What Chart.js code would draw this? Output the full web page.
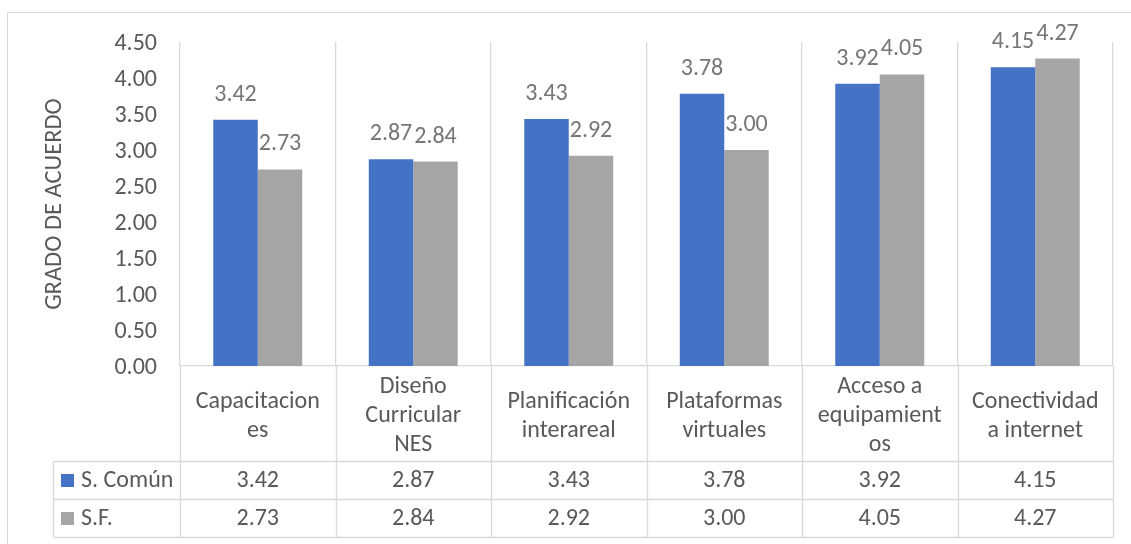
<!DOCTYPE html>
<html>
<head>
<meta charset="utf-8">
<script src="https://cdn.jsdelivr.net/npm/chart.js@4"></script>
<style>
  html, body { margin: 0; padding: 0; background: #fff; }
  #wrap { width: 1131px; height: 544px; }
</style>
</head>
<body>
<div id="wrap"><canvas id="bar-chart" width="1131" height="544"></canvas></div>
<script>
// categories (pre-wrapped the way the table cells show them)
const categories = [
    ['Capacitacion', 'es'],
    ['Diseño', 'Curricular', 'NES'],
    ['Planificación', 'interareal'],
    ['Plataformas', 'virtuales'],
    ['Acceso a', 'equipamient', 'os'],
    ['Conectividad', 'a internet']
];
const seriesNames = ['S. Común', 'S.F.'];
const comun = [3.42, 2.87, 3.43, 3.78, 3.92, 4.15];
const sf = [2.73, 2.84, 2.92, 3.00, 4.05, 4.27];
const seriesColors = ['#4472C4', '#A5A5A5'];

const FONT = 'Carlito, Lato, sans-serif';
const FS = 24;
const GRID = '#d9d9d9';
const TEXT = '#595959';

// value labels above each bar
const barLabels = {
    id: 'barLabels',
    afterDatasetsDraw(chart) {
        const ctx = chart.ctx;
        ctx.save();
        ctx.font = FS + 'px ' + FONT;
        ctx.fillStyle = '#767676';
        ctx.textAlign = 'center';
        ctx.textBaseline = 'middle';
        chart.data.datasets.forEach((ds, di) => {
            chart.getDatasetMeta(di).data.forEach((bar, i) => {
                ctx.fillText(ds.data[i].toFixed(2), bar.x, bar.y - 25);
            });
        });
        ctx.restore();
    }
};

// outer frame plus the data table under the axis
const dataTable = {
    id: 'dataTable',
    beforeDraw(chart) {
        const ctx = chart.ctx;
        ctx.save();
        ctx.strokeStyle = GRID;
        ctx.lineWidth = 1;
        ctx.beginPath();
        ctx.moveTo(7.5, 544);
        ctx.lineTo(7.5, 12.5);
        ctx.lineTo(1131, 12.5);
        ctx.stroke();
        ctx.restore();
    },
    afterDraw(chart) {
        const ctx = chart.ctx;
        const x = chart.scales.x;
        const area = chart.chartArea;
        const n = categories.length;
        const step = (area.right - area.left) / n;
        const legendLeft = 53.5;
        const rows = [461.5, 499.5, 537.5];
        ctx.save();
        ctx.strokeStyle = GRID;
        ctx.lineWidth = 1.3;
        ctx.beginPath();
        rows.forEach(y => {
            ctx.moveTo(legendLeft, y);
            ctx.lineTo(area.right, y);
        });
        ctx.moveTo(legendLeft, rows[0]);
        ctx.lineTo(legendLeft, rows[2]);
        for (let i = 0; i <= n; i++) {
            const px = Math.round(area.left + i * step) + 0.5;
            ctx.moveTo(px, area.bottom);
            ctx.lineTo(px, rows[2]);
        }
        ctx.stroke();

        ctx.font = FS + 'px ' + FONT;
        ctx.textBaseline = 'middle';
        const series = [comun, sf];
        series.forEach((vals, r) => {
            const cy = (rows[r] + rows[r + 1]) / 2;
            ctx.fillStyle = seriesColors[r];
            ctx.fillRect(61, cy - 6.5, 13, 13);
            ctx.fillStyle = TEXT;
            ctx.textAlign = 'left';
            ctx.fillText(seriesNames[r], 81, cy);
            ctx.textAlign = 'center';
            vals.forEach((v, i) => {
                ctx.fillText(v.toFixed(2), x.getPixelForValue(i), cy);
            });
        });
        ctx.restore();
    }
};

new Chart(document.getElementById('bar-chart').getContext('2d'), {
    type: 'bar',
    data: {
        labels: categories,
        datasets: [
            { label: seriesNames[0], data: comun, backgroundColor: seriesColors[0] },
            { label: seriesNames[1], data: sf, backgroundColor: seriesColors[1] }
        ]
    },
    options: {
        responsive: false,
        animation: false,
        layout: { padding: { top: 42, right: 18, left: 0, bottom: 0 } },
        datasets: {
            bar: { categoryPercentage: 0.572, barPercentage: 1 }
        },
        plugins: {
            legend: { display: false },
            tooltip: { enabled: false }
        },
        scales: {
            x: {
                grid: { color: GRID, lineWidth: 1.3, drawTicks: false, offset: true },
                border: { color: GRID, width: 1.3 },
                ticks: {
                    color: TEXT,
                    font: { family: FONT, size: FS, lineHeight: 29 / FS },
                    maxRotation: 0,
                    autoSkip: false,
                    padding: 21,
                    crossAlign: 'center'
                },
                afterFit(scale) { scale.height = 178; }
            },
            y: {
                min: 0,
                max: 4.5,
                grid: { display: false, drawTicks: false },
                border: { display: false },
                ticks: {
                    stepSize: 0.5,
                    color: TEXT,
                    padding: 23,
                    labelOffset: 2,
                    font: { family: FONT, size: FS },
                    callback: v => Number(v).toFixed(2)
                },
                title: {
                    display: true,
                    text: 'GRADO DE ACUERDO',
                    color: TEXT,
                    font: { family: FONT, size: 24.5 },
                    padding: { top: 40, bottom: 0 }
                },
                afterFit(scale) { scale.width = 180; }
            }
        }
    },
    plugins: [barLabels, dataTable]
});
</script>
</body>
</html>
